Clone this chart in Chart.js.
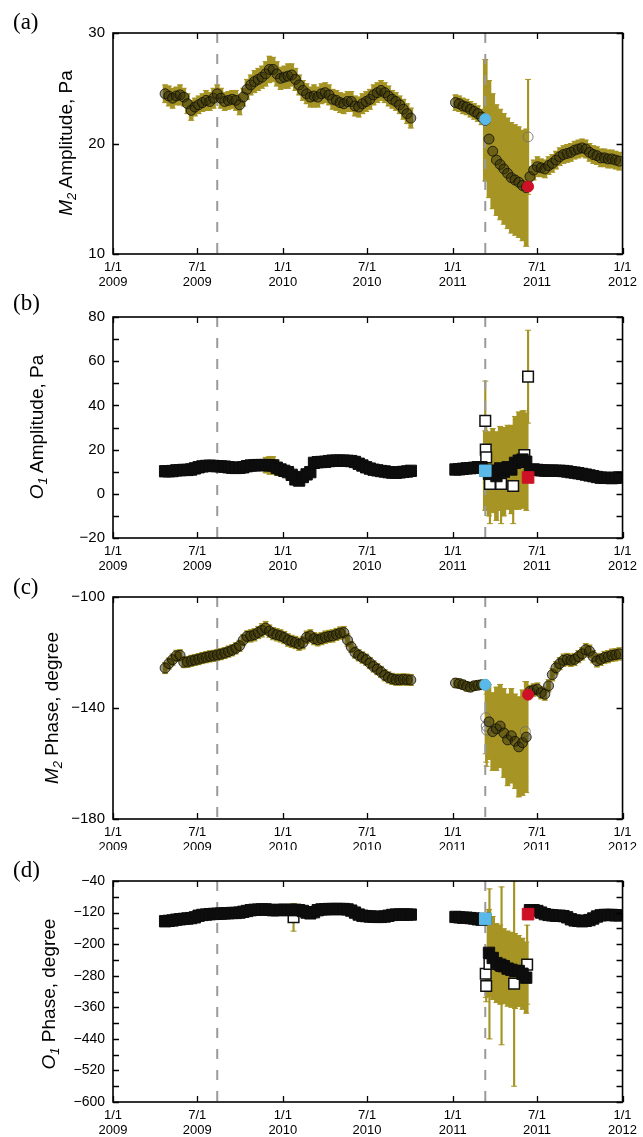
<!DOCTYPE html>
<html>
<head>
<meta charset="utf-8">
<script src="https://cdn.jsdelivr.net/npm/chart.js@4.4.1/dist/chart.umd.min.js"></script>
<style>
  html, body { margin: 0; padding: 0; background: #fff; }
  #page { position: relative; width: 643px; height: 1137px; overflow: hidden; font-family: 'Liberation Sans', Arial, sans-serif; }
  canvas { position: absolute; left: 0; }
  .tag { position: absolute; left: 13px; font-family: 'Liberation Serif', 'Times New Roman', serif; font-size: 23px; line-height: 23px; }
  .ytitle { position: absolute; width: 300px; height: 24px; line-height: 24px; text-align: center; font-size: 19px; transform: rotate(-90deg); white-space: nowrap; }
  .ytitle sub { font-size: 13px; vertical-align: -4px; line-height: 0; }
</style>
</head>
<body>
<div id="page">
  <canvas id="pa" width="643" height="290" style="top:0px"></canvas>
  <canvas id="pb" width="643" height="280" style="top:290px"></canvas>
  <canvas id="pc" width="643" height="280" style="top:570px"></canvas>
  <canvas id="pd" width="643" height="287" style="top:850px"></canvas>

  <div class="tag" style="top:10px">(a)</div>
  <div class="tag" style="top:291px">(b)</div>
  <div class="tag" style="top:575px">(c)</div>
  <div class="tag" style="top:858px">(d)</div>

  <div class="ytitle" style="left:-84px; top:131px"><i>M</i><sub><i>2</i></sub> Amplitude, Pa</div>
  <div class="ytitle" style="left:-113px; top:415px"><i>O</i><sub><i>1</i></sub> Amplitude, Pa</div>
  <div class="ytitle" style="left:-98px; top:696px"><i>M</i><sub><i>2</i></sub> Phase, degree</div>
  <div class="ytitle" style="left:-101px; top:982px"><i>O</i><sub><i>1</i></sub> Phase, degree</div>
</div>
<script>
// days since 1/1/2009 for each estimate (first run 2009-04 .. 2010-10, second run 2011-01 .. 2011-12)
const days = [
  112,120,128,136,144,152,160,168,176,184,192,200,208,216,224,232,240,248,256,264,
  272,280,288,296,304,312,320,328,336,344,352,360,368,376,384,392,400,408,416,424,
  432,440,448,456,464,472,480,488,496,504,512,520,528,536,544,552,560,568,576,584,
  592,600,608,616,624,632,640,
  736,744,752,760,768,776,784,792,800,808,816,824,832,840,848,856,864,872,880,888,
  896,904,912,920,928,936,944,952,960,968,976,984,992,1000,1008,1016,1024,1032,1040,1048,
  1056,1064,1072,1080,1088
];

// earthquakes (dashed lines)
const eventDays = [224, 800];

// x axis ticks
const xTickDays = [0, 181, 365, 546, 730, 911, 1095];
const xTickTop = ['1/1', '7/1', '1/1', '7/1', '1/1', '7/1', '1/1'];
const xTickBottom = ['2009', '2009', '2010', '2010', '2011', '2011', '2012'];

// (a) M2 amplitude, Pa
const m2Amp = [
  24.5,24.3,24.1,24.3,24.4,24.2,23.6,23.0,23.3,23.5, 23.7,23.9,23.8,24.1,24.5,24.1,23.8,23.9,24.0,23.9,
  23.5,24.2,24.9,25.3,25.6,25.8,26.0,26.3,26.7,26.7, 26.3,25.9,26.0,26.1,26.2,25.8,25.3,24.8,24.5,24.2,
  24.3,24.2,24.5,24.6,24.4,24.0,23.9,23.7,23.6,23.8, 23.8,23.4,23.3,23.6,23.8,24.0,24.4,24.6,24.8,24.6,
  24.3,24.0,23.8,23.5,23.1,22.7,22.3,
  23.7,23.6,23.4,23.3,23.1,22.9,22.7,22.4,22.1,20.4, 19.3,18.5,18.1,17.7,17.3,16.9,16.7,16.5,16.2,16.0,
  17.0,17.6,17.9,17.8,17.7,18.0,18.2,18.5,18.8,19.0, 19.1,19.2,19.4,19.5,19.6,19.5,19.2,19.0,18.9,18.7,
  18.7,18.6,18.6,18.5,18.4
];
const m2AmpErr = [
  0.8,0.9,0.9,0.8,0.9,0.8,0.9,0.9,0.8,0.8, 0.8,0.9,0.8,0.9,0.8,0.9,0.8,0.8,0.8,0.9,
  0.9,0.8,0.9,0.9,1.0,1.0,1.0,1.1,1.2,1.1, 1.1,1.0,1.0,1.1,1.0,1.0,0.9,0.9,0.9,0.9,
  1.0,0.9,0.9,0.9,0.9,0.9,0.9,0.9,0.9,0.9, 0.9,0.9,0.9,0.9,0.9,0.9,0.9,0.9,0.9,0.9,
  0.9,0.8,0.8,0.8,0.9,0.9,0.9,
  0.7,0.7,0.7,0.7,0.7,0.7,0.7,0.7,5.5,5.3, 5.2,5.0,5.0,5.0,5.0,5.0,5.0,5.0,5.0,5.3,
  0.9,0.9,0.9,0.8,0.8,0.8,0.8,0.8,0.8,0.8, 0.8,0.8,0.8,0.8,0.8,0.8,0.8,0.8,0.8,0.8,
  0.8,0.8,0.8,0.8,0.8
];
const m2AmpOutDays = [892];
const m2AmpOut = [20.6];
const m2AmpOutErr = [5.2];

// (b) O1 amplitude, Pa
const o1Amp = [
  10.2,10.2,10.3,10.6,10.7,10.8,10.8,11.0,11.5,12.0, 12.4,12.6,12.7,12.6,12.5,12.4,12.3,12.0,11.8,11.7,
  11.8,12.0,12.5,12.8,12.9,13.0,13.0,13.0,12.9,12.8, 11.8,11.0,10.4,9.8,8.6,6.5,6.0,7.6,8.8,9.8,
  14.0,14.3,14.4,14.5,14.8,15.0,15.0,15.0,15.0,14.9, 14.8,14.4,13.6,12.8,12.0,11.4,10.9,10.6,10.3,10.1,
  9.8,9.6,9.5,9.7,9.9,10.1,10.4,
  11.0,11.1,11.3,11.5,11.6,11.8,12.0,12.0,10.5,9.0, 10.5,8.0,11.5,10.0,12.0,11.0,14.0,15.0,15.5,14.5,
  10.8,11.0,10.8,10.6,10.5,10.5,10.5,10.4,10.4,10.3, 10.1,9.8,9.6,9.3,9.0,8.7,8.3,8.0,7.6,7.3,
  7.2,7.2,7.1,7.2,7.4
];
const o1AmpErr = [
  1.5,1.5,1.5,1.5,1.5,1.5,1.5,1.5,1.5,1.5, 1.5,1.5,1.5,1.5,1.5,1.5,1.5,1.5,1.5,1.5,
  1.5,1.5,1.5,1.5,1.5,1.5,2.0,3.5,4.0,4.0, 3.5,2.0,1.5,1.5,1.5,1.5,1.5,1.5,1.5,1.5,
  1.5,1.5,1.5,1.5,1.5,1.5,1.5,1.5,1.5,1.5, 1.5,1.5,1.5,1.5,1.5,1.5,1.5,1.5,1.5,1.5,
  1.5,1.5,1.5,1.5,1.5,1.5,1.5,
  1.5,1.5,1.5,1.5,1.5,1.5,1.5,1.5,18,19, 19,20,19,20,19,20,21,22,22,22,
  1.5,1.5,1.5,1.5,1.5,1.5,1.5,1.5,1.5,1.5, 1.5,1.5,1.5,1.5,1.5,1.5,1.5,1.5,1.5,1.5,
  1.5,1.5,1.5,1.5,1.5
];
const o1AmpOutDays = [800, 801, 802, 810, 834, 860, 884, 892];
const o1AmpOut = [33, 20, 16.5, 4.5, 4.5, 3.5, 17.5, 53];
const o1AmpOutErr = [18, 15, 14, 18, 18, 17, 20, 21];

// (c) M2 phase, degree
const m2Phase = [
  -125.6,-124.0,-122.6,-121.2,-121.0,-123.5,-123.4,-123.0,-122.7,-122.4, -122.0,-121.7,-121.4,-121.2,-120.9,-120.6,-120.2,-119.7,-119.2,-118.5,
  -117.6,-115.5,-114.2,-114.0,-113.6,-112.8,-112.0,-111.2,-112.3,-113.2, -113.6,-114.0,-114.6,-115.5,-116.0,-116.4,-117.0,-116.5,-114.5,-114.0,
  -115.0,-115.4,-115.0,-114.5,-114.2,-114.0,-113.5,-113.0,-112.8,-115.5, -118.0,-120.0,-121.0,-121.8,-122.6,-123.8,-125.0,-126.0,-127.0,-128.2,
  -129.0,-129.5,-129.8,-129.8,-129.7,-129.8,-129.9,
  -131.0,-131.2,-131.6,-132.2,-132.5,-132.0,-131.8,-131.6,-131.6,-145.0, -148.5,-147.5,-146.5,-149.0,-151.5,-150.0,-152.0,-154.0,-152.5,-150.5,
  -134.0,-133.5,-133.2,-134.5,-135.0,-132.0,-128.0,-125.5,-124.0,-122.8, -122.5,-122.8,-122.5,-121.5,-120.5,-119.0,-119.5,-121.5,-123.0,-122.5,
  -121.8,-121.5,-121.0,-120.8,-120.5
];
const m2PhaseErr = [
  2.0,2.0,2.0,2.0,2.0,2.0,2.0,2.0,2.0,2.0, 2.0,2.0,2.0,2.0,2.0,2.0,2.0,2.0,2.0,2.0,
  2.0,2.0,2.0,2.2,2.2,2.2,2.4,2.4,2.2,2.2, 2.2,2.2,2.2,2.2,2.2,2.2,2.2,2.2,2.2,2.2,
  2.2,2.2,2.2,2.2,2.2,2.2,2.2,2.2,2.2,2.2, 2.0,2.0,2.0,2.0,2.0,2.0,2.0,2.0,2.0,2.0,
  2.0,2.0,2.0,2.0,2.0,2.0,2.0,
  1.6,1.6,1.6,1.6,1.6,1.6,1.6,1.6,1.6,13.5, 14,15,15,16,16.5,17,17,18,19,20,
  2.2,2.2,2.2,2.2,2.2,2.2,2.2,2.2,2.2,2.2, 2.2,2.2,2.2,2.2,2.2,2.2,2.2,2.2,2.2,2.2,
  2.2,2.2,2.2,2.2,2.2
];
const m2PhaseOutDays = [801, 802, 803, 886];
const m2PhaseOut = [-143.5, -146.5, -148.0, -148.5];
const m2PhaseOutErr = [13, 13, 13, 18];

// (d) O1 phase, degree
const o1Phase = [
  -142,-141,-140,-138,-137,-136,-135,-134,-132,-128, -126,-125,-124,-123.5,-123,-122.5,-122,-121.5,-121,-121,
  -120,-118,-116,-114,-113,-112.5,-112,-112,-113,-114, -114,-113,-113,-114,-113,-113,-114,-116,-120,-122,
  -119,-114,-112,-111.5,-111,-111,-111,-111,-111,-112, -115,-120,-125,-128,-129,-130,-130.5,-131,-131,-130,
  -128,-126,-125,-125,-125,-125,-125,
  -131,-132,-133,-133,-134,-135,-137,-138,-136,-222, -235,-248,-252,-256,-262,-265,-268,-268,-275,-285,
  -114,-114,-116,-120,-124,-126,-127,-128,-128,-129, -132,-137,-140,-141,-142,-141,-139,-135,-130,-127,
  -126,-126,-126,-127,-127
];
const o1PhaseErr = [
  6,6,6,6,6,6,6,6,6,6, 6,6,6,6,6,6,6,6,6,6,
  6,6,6,6,6,6,6,6,6,6, 6,6,6,6,6,6,6,6,6,6,
  6,6,6,6,6,6,6,6,6,6, 6,6,6,6,6,6,6,6,6,6,
  6,6,6,6,6,6,6,
  6,6,6,6,6,6,6,6,6,110, 105,100,100,95,95,95,95,90,90,90,
  6,6,6,6,6,6,6,6,6,6, 6,6,6,6,6,6,6,6,6,6,
  6,6,6,6,6
];
const o1PhaseOutDays = [388, 801, 802, 809, 835, 862, 890];
const o1PhaseOut = [-132, -275, -306, -250, -255, -300, -252];
const o1PhaseOutErr = [35, 60, 40, 190, 200, 260, 100];

// highlighted epochs: blue = 3/11 2011, red = June 2011
const blueDay = 800, redDay = 892;
const blueVals = [22.2, 10.4, -131.6, -136];
const redVals = [16.1, 7.4, -135.2, -124];

// y axes
const aTicks = [10, 20, 30];
const bTicks = [-20, -10, 0, 10, 20, 30, 40, 50, 60, 70, 80];
const bLabels = [-20, 0, 20, 40, 60, 80];
const cTicks = [-180, -140, -100];
const dTicks = [-600, -560, -520, -480, -440, -400, -360, -320, -280, -240, -200, -160, -120, -80, -40];
const dLabels = [-600, -520, -440, -360, -280, -200, -120, -40];

const olive = '#a69424';
const blue = '#5ab9e8';
const red = '#cf1128';

const framePlugin = {
  id: 'frame',
  afterDraw(chart) {
    const { ctx, chartArea: a, scales } = chart;
    ctx.save();
    ctx.strokeStyle = '#000';
    ctx.lineWidth = 1.6;
    ctx.strokeRect(a.left, a.top, a.right - a.left, a.bottom - a.top);
    ctx.lineWidth = 1.3;
    ctx.beginPath();
    scales.x.ticks.forEach(t => {
      const px = Math.round(scales.x.getPixelForValue(t.value)) + 0.5;
      ctx.moveTo(px, a.bottom); ctx.lineTo(px, a.bottom - 6);
      ctx.moveTo(px, a.top); ctx.lineTo(px, a.top + 6);
    });
    scales.y.ticks.forEach(t => {
      const py = Math.round(scales.y.getPixelForValue(t.value)) + 0.5;
      ctx.moveTo(a.left, py); ctx.lineTo(a.left + 6, py);
      ctx.moveTo(a.right, py); ctx.lineTo(a.right - 6, py);
    });
    ctx.stroke();
    ctx.restore();
  }
};

function fmt(v) {
  return v < 0 ? '\u2212' + Math.abs(v) : String(v);
}

function buildPanel(p, k) {
  const bars = p.vals.map((v, i) => ({ x: days[i], y: [v - p.err[i], v + p.err[i]] }));
  const caps = p.vals.map((v, i) => ({ x: days[i], y: v - p.err[i] }))
    .concat(p.vals.map((v, i) => ({ x: days[i], y: v + p.err[i] })));
  const pts = p.vals.map((v, i) => ({ x: days[i], y: v }));
  const oBars = p.outDays.map((d, i) => ({ x: d, y: [p.out[i] - p.outErr[i], p.out[i] + p.outErr[i]] }));
  const oCaps = p.outDays.map((d, i) => ({ x: d, y: p.out[i] - p.outErr[i] }))
    .concat(p.outDays.map((d, i) => ({ x: d, y: p.out[i] + p.outErr[i] })));
  const oPts = p.outDays.map((d, i) => ({ x: d, y: p.out[i] }));

  const square = p.shape === 'rect';
  const mainStyle = square
    ? { pointStyle: 'rect', pointRadius: 8, backgroundColor: '#0c0d0c', borderColor: '#0c0d0c', borderWidth: 1 }
    : { pointStyle: 'circle', pointRadius: 5, backgroundColor: 'rgba(50,45,8,0.5)', borderColor: 'rgba(15,15,10,0.8)', borderWidth: 1 };
  const outStyle = square
    ? { pointStyle: 'rect', pointRadius: 7.5, backgroundColor: '#fff', borderColor: '#111', borderWidth: 1.5 }
    : { pointStyle: 'circle', pointRadius: 5, backgroundColor: 'rgba(255,255,255,0)', borderColor: 'rgba(110,110,110,0.85)', borderWidth: 1 };
  const hlRadius = square ? 8.2 : 5.5;

  const eventSets = eventDays.map(e => ({
    type: 'line',
    data: [{ x: e, y: p.yMax }, { x: e, y: p.yMin }],
    borderColor: '#9a9a9a', borderWidth: 2, borderDash: [10, 11],
    pointRadius: 0, fill: false, order: 7
  }));

  const datasets = [
    { type: 'bar', data: bars, backgroundColor: olive, barThickness: 4, grouped: false, order: 9 },
    { type: 'bar', data: oBars, backgroundColor: olive, barThickness: 1.5, grouped: false, order: 9 },
    { type: 'scatter', data: caps.concat(oCaps), pointStyle: 'line', pointRadius: 3, borderColor: olive, borderWidth: 1, order: 8 },
    ...eventSets,
    Object.assign({ type: 'scatter', data: oPts, order: 6 }, outStyle),
    Object.assign({ type: 'scatter', data: pts, order: 5 }, mainStyle),
    { type: 'scatter', data: [{ x: blueDay, y: blueVals[k] }], pointStyle: square ? 'rect' : 'circle', pointRadius: hlRadius, backgroundColor: blue, borderColor: blue, order: 1 },
    { type: 'scatter', data: [{ x: redDay, y: redVals[k] }], pointStyle: square ? 'rect' : 'circle', pointRadius: hlRadius, backgroundColor: red, borderColor: red, order: 1 }
  ];

  new Chart(document.getElementById(p.id), {
    type: 'scatter',
    data: { datasets },
    plugins: [framePlugin],
    options: {
      responsive: false,
      animation: false,
      events: [],
      layout: { padding: { top: p.padTop, right: 15, left: 0, bottom: 0 } },
      plugins: { legend: { display: false }, tooltip: { enabled: false } },
      scales: {
        x: {
          type: 'linear', min: 0, max: 1095, offset: false,
          grid: { display: false, drawTicks: false },
          border: { display: false },
          afterBuildTicks: s => { s.ticks = xTickDays.map(v => ({ value: v })); },
          afterFit: s => { s.height = p.xHeight; },
          ticks: {
            autoSkip: false, maxRotation: 0, padding: 6, color: '#000',
            font: { family: "'Liberation Sans', Arial, sans-serif", size: 13, lineHeight: 1.15 },
            callback: v => {
              const i = xTickDays.indexOf(v);
              return i >= 0 ? [xTickTop[i], xTickBottom[i]] : '';
            }
          }
        },
        y: {
          type: 'linear', min: p.yMin, max: p.yMax,
          grid: { display: false, drawTicks: false },
          border: { display: false },
          afterBuildTicks: s => { s.ticks = p.yTicks.map(v => ({ value: v })); },
          afterFit: s => { s.width = 113; },
          ticks: {
            autoSkip: false, padding: 8, color: '#000',
            font: { family: "'Liberation Sans', Arial, sans-serif", size: p.yFont },
            callback: v => p.yLabels.includes(Math.round(v)) ? fmt(Math.round(v)) : ''
          }
        }
      }
    }
  });
}

const panels = [
  { id: 'pa', vals: m2Amp, err: m2AmpErr, outDays: m2AmpOutDays, out: m2AmpOut, outErr: m2AmpOutErr,
    shape: 'circle', yMin: 10, yMax: 30, yTicks: aTicks, yLabels: aTicks, padTop: 33, xHeight: 36, yFont: 15 },
  { id: 'pb', vals: o1Amp, err: o1AmpErr, outDays: o1AmpOutDays, out: o1AmpOut, outErr: o1AmpOutErr,
    shape: 'rect', yMin: -20, yMax: 80, yTicks: bTicks, yLabels: bLabels, padTop: 27, xHeight: 32, yFont: 15 },
  { id: 'pc', vals: m2Phase, err: m2PhaseErr, outDays: m2PhaseOutDays, out: m2PhaseOut, outErr: m2PhaseOutErr,
    shape: 'circle', yMin: -180, yMax: -100, yTicks: cTicks, yLabels: cTicks, padTop: 27, xHeight: 31, yFont: 15 },
  { id: 'pd', vals: o1Phase, err: o1PhaseErr, outDays: o1PhaseOutDays, out: o1PhaseOut, outErr: o1PhaseOutErr,
    shape: 'rect', yMin: -600, yMax: -40, yTicks: dTicks, yLabels: dLabels, padTop: 31, xHeight: 35, yFont: 14 }
];

panels.forEach((p, k) => buildPanel(p, k));
</script>
</body>
</html>
